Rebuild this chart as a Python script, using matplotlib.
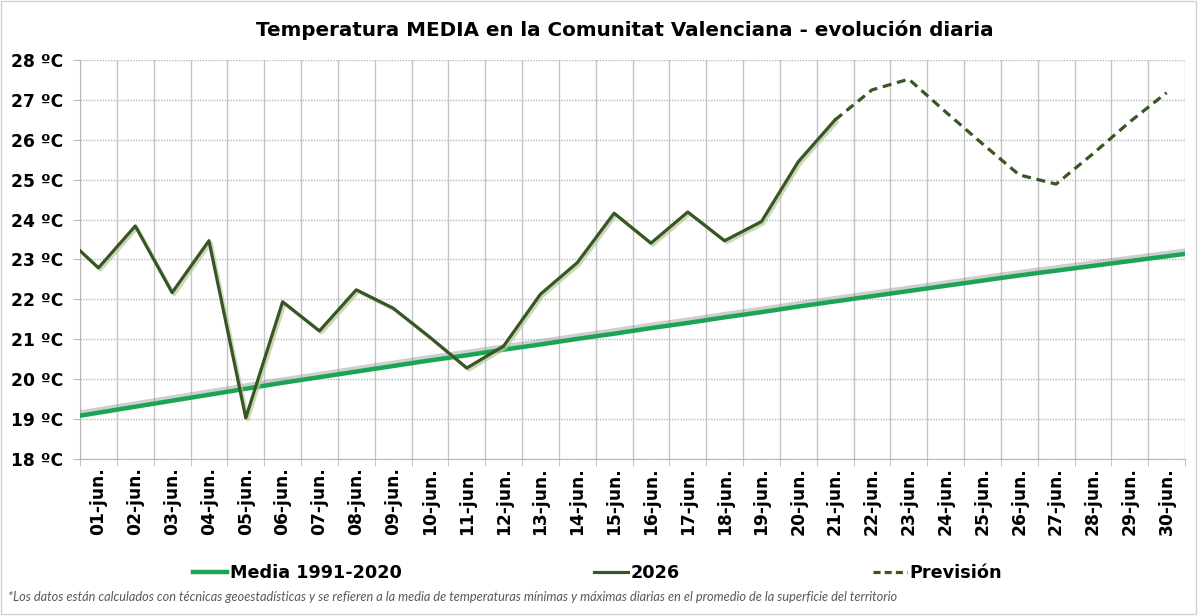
import numpy as np
import matplotlib.pyplot as plt
import matplotlib.patheffects as pe
from matplotlib.patches import Rectangle

# Daily values (day 0 = 31-may, day 31 = 01-jul, both clipped by the axis)
media_days = np.arange(0, 32)
media_vals = [19.01, 19.16, 19.31, 19.46, 19.61, 19.76, 19.91, 20.05, 20.19, 20.33,
              20.47, 20.60, 20.74, 20.87, 21.01, 21.14, 21.28, 21.41, 21.55, 21.68,
              21.82, 21.95, 22.08, 22.21, 22.34, 22.47, 22.60, 22.72, 22.84, 22.96,
              23.08, 23.20]

obs_days = np.arange(0, 22)
obs_vals = [23.65, 22.79, 23.84, 22.17, 23.47, 19.03, 21.94, 21.21, 22.24, 21.78,
            21.05, 20.28, 20.83, 22.13, 22.92, 24.16, 23.41, 24.19, 23.47, 23.95,
            25.45, 26.50]

prev_days = np.arange(21, 31)
prev_vals = [26.50, 27.25, 27.52, 26.70, 25.90, 25.12, 24.89, 25.65, 26.45, 27.18]

labels = ['%02d-jun.' % d for d in range(1, 31)]
yticks = np.arange(18, 29)

c_media = '#1aa555'
c_obs = '#375623'

fig = plt.figure(figsize=(12, 6.16), dpi=100)
ax = fig.add_axes([0.0667, 0.2549, 0.9208, 0.6477])

# Media 1991-2020
ax.plot(media_days, media_vals, color=c_media, lw=3.2, solid_capstyle='butt',
        path_effects=[pe.SimpleLineShadow(offset=(1, 2.5), shadow_color='#888888', alpha=0.4),
                      pe.Normal()], zorder=3)
# 2026
ax.plot(obs_days, obs_vals, color=c_obs, lw=2.3,
        path_effects=[pe.SimpleLineShadow(offset=(1.5, -1.5), shadow_color='#b5c99a', alpha=0.7),
                      pe.Normal()], zorder=4)
# Prevision
ax.plot(prev_days, prev_vals, color=c_obs, lw=2.3, dashes=(2.8, 1.8), zorder=4)

ax.set_xlim(0.5, 30.5)
ax.set_ylim(18, 28)
ax.set_yticks(yticks)
ax.set_yticklabels(['%d ºC' % v for v in yticks], fontsize=12.3, fontweight='bold')
ax.set_xticks(np.arange(1, 31))
ax.set_xticklabels(labels, rotation=90, fontsize=12.3, fontweight='bold')
ax.set_xticks(np.arange(0.5, 31), minor=True)
ax.tick_params(axis='x', which='major', length=0, pad=6)
ax.tick_params(axis='x', which='minor', length=5, color='#b8b8b8')
ax.tick_params(axis='y', length=5, color='#b8b8b8', pad=7)

ax.grid(axis='x', which='minor', color='#c4c4c4', lw=1)
ax.grid(axis='y', which='major', color='#b8b8b8', lw=1, linestyle=(0, (1, 1)))
for s in ['top', 'right']:
    ax.spines[s].set_visible(False)
ax.spines['left'].set_color('#b8b8b8')
ax.spines['bottom'].set_color('#b8b8b8')

fig.suptitle('Temperatura MEDIA en la Comunitat Valenciana - evolución diaria',
             x=0.521, y=0.951, va='center', fontsize=14.3, fontweight='bold')

# legend
h1, = ax.plot([], [], color=c_media, lw=3.2)
h2, = ax.plot([], [], color=c_obs, lw=2.3)
h3, = ax.plot([], [], color=c_obs, lw=2.3, dashes=(2.2, 1.3))
fig.legend([h1, h2, h3], ['Media 1991-2020', '2026', 'Previsión'], ncol=3,
           loc='center', bbox_to_anchor=(0.498, 0.07), frameon=False,
           prop={'weight': 'bold', 'size': 12.7}, handlelength=1.95,
           handletextpad=0.15, columnspacing=10.9)

fig.text(0.007, 0.031, '*Los datos están calculados con técnicas geoestadísticas y se refieren a la media '
         'de temperaturas mínimas y máximas diarias en el promedio de la superficie del territorio',
         fontsize=9.2, style='italic', color='#595959', family='Lato', va='center')

fig.patches.append(Rectangle((0.001, 0.003), 0.996, 0.995, transform=fig.transFigure,
                             fill=False, edgecolor='#d0d0d0', lw=1))

fig.savefig('out.png', dpi=100)
